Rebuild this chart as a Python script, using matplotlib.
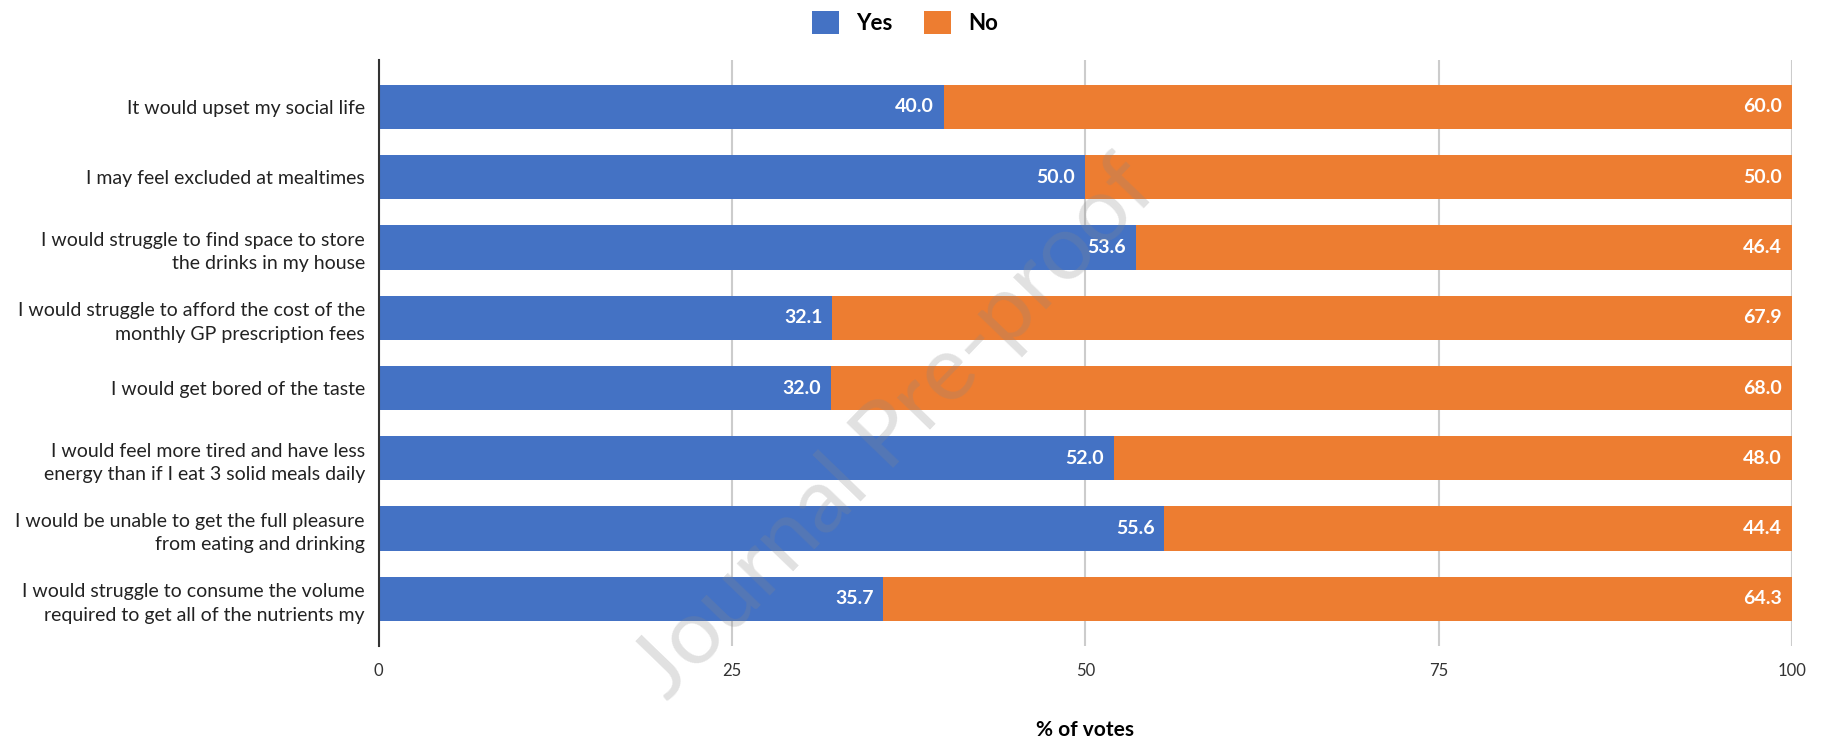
import numpy as np
import matplotlib.pyplot as plt

# Survey data (% of votes)
statements = [
    "It would upset my social life",
    "I may feel excluded at mealtimes",
    "I would struggle to find space to store\nthe drinks in my house",
    "I would struggle to afford the cost of the\nmonthly GP prescription fees",
    "I would get bored of the taste",
    "I would feel more tired and have less\nenergy than if I eat 3 solid meals daily",
    "I would be unable to get the full pleasure\nfrom eating and drinking",
    "I would struggle to consume the volume\nrequired to get all of the nutrients my",
]
yes_pct = [40.0, 50.0, 53.6, 32.1, 32.0, 52.0, 55.6, 35.7]
no_pct = [60.0, 50.0, 46.4, 67.9, 68.0, 48.0, 44.4, 64.3]
x_ticks = [0, 25, 50, 75, 100]

blue = '#4472C4'
orange = '#ED7D31'
plt.rcParams['font.family'] = ['Lato', 'DejaVu Sans']

fig = plt.figure(figsize=(18.21, 7.39), dpi=100)
ax = fig.add_axes([0.208, 0.126, 0.776, 0.793])

y = np.arange(len(statements))
ax.barh(y, yes_pct, height=0.63, color=blue, label='Yes', zorder=2)
ax.barh(y, no_pct, left=yes_pct, height=0.63, color=orange, label='No', zorder=2)

# value labels inside the segment ends
for i in range(len(statements)):
    ax.text(yes_pct[i] - 0.7, y[i], f"{yes_pct[i]:.1f}", ha='right', va='center',
            color='white', fontsize=14, fontweight='bold', zorder=3)
    ax.text(yes_pct[i] + no_pct[i] - 0.7, y[i], f"{no_pct[i]:.1f}", ha='right', va='center',
            color='white', fontsize=14, fontweight='bold', zorder=3)

ax.set_ylim(len(statements) - 0.33, -0.67)
ax.set_xlim(0, 100)
ax.set_yticks(y)
ax.set_yticklabels(statements, fontsize=14, color='#222222', linespacing=1.45)
ax.set_xticks(x_ticks)
ax.set_xticklabels([str(t) for t in x_ticks], fontsize=12, color='#333333')
ax.tick_params(axis='both', length=0)
ax.tick_params(axis='y', pad=10)
ax.tick_params(axis='x', pad=12)

ax.grid(axis='x', color='#cccccc', linewidth=1.5, zorder=0)
for s in ['top', 'right', 'bottom']:
    ax.spines[s].set_visible(False)
ax.spines['left'].set_color('#333333')
ax.spines['left'].set_linewidth(1.5)
ax.spines['left'].set_zorder(4)

ax.set_xlabel("% of votes", fontsize=15, fontweight='bold', labelpad=30)

fig.legend(loc='upper center', bbox_to_anchor=(0.497, 1.012), ncol=2, frameon=False,
           handlelength=1.2, handleheight=1.2, columnspacing=1.4, handletextpad=0.8,
           prop={'weight': 'bold', 'size': 16})

# watermark
fig.text(0.492, 0.42, "Journal Pre-proof", rotation=46, fontsize=66, color='#888888',
         alpha=0.25, ha='center', va='center', zorder=10)

plt.savefig("out.png", dpi=100)
